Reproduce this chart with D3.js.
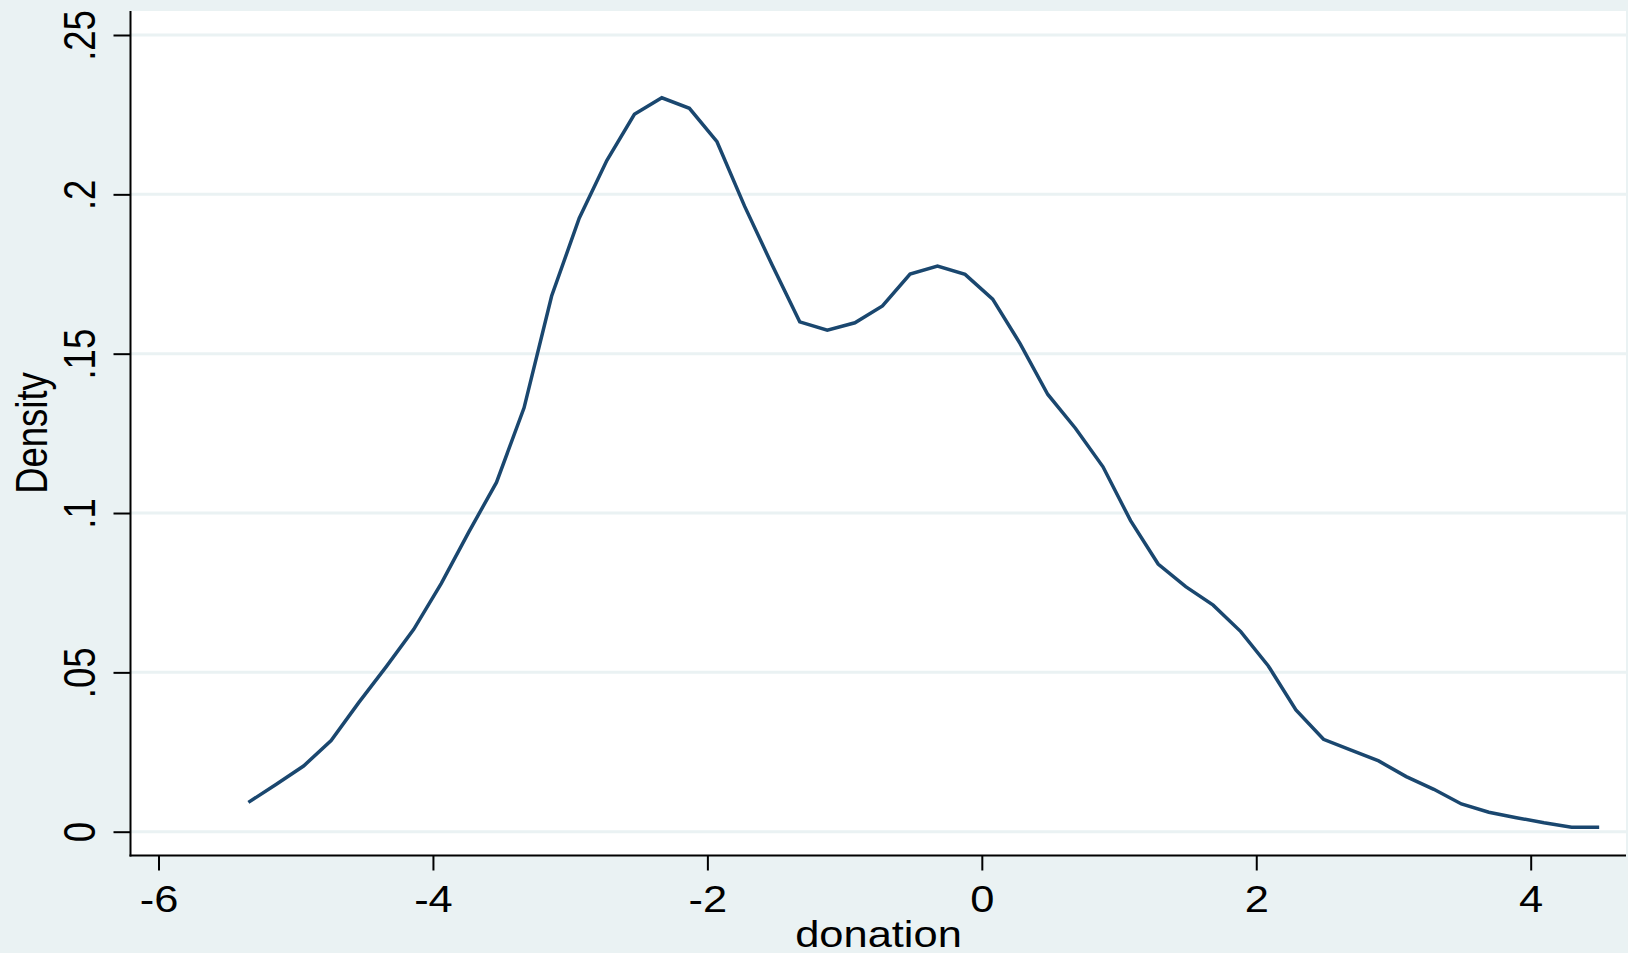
<!DOCTYPE html>
<html>
<head>
<meta charset="utf-8">
<script src="https://cdn.jsdelivr.net/npm/d3@7"></script>
<style>
  html, body { margin: 0; padding: 0; background: #eaf2f3; }
  svg { display: block; }
  text { font-family: "Liberation Sans", Arial, sans-serif; fill: #000; }
</style>
</head>
<body>
<svg id="chart" width="1628" height="953"></svg>
<script>
// Kernel density estimate of donation, evaluated on a 50-point grid
const gridX = [
  -5.345, -5.144, -4.943, -4.742, -4.541, -4.340, -4.140, -3.939, -3.738, -3.537,
  -3.336, -3.135, -2.934, -2.733, -2.532, -2.332, -2.131, -1.930, -1.729, -1.528,
  -1.327, -1.126, -0.925, -0.724, -0.523, -0.323, -0.122, 0.079, 0.280, 0.481,
  0.682, 0.883, 1.084, 1.285, 1.486, 1.686, 1.887, 2.088, 2.289, 2.490,
  2.691, 2.892, 3.093, 3.294, 3.495, 3.695, 3.896, 4.097, 4.298, 4.499
];
const density = [
  0.0092, 0.0148, 0.0206, 0.0286, 0.0405, 0.0518, 0.0635, 0.0779, 0.0941, 0.1096,
  0.1330, 0.1681, 0.1925, 0.2106, 0.2251, 0.2303, 0.2270, 0.2165, 0.1963, 0.1778,
  0.1600, 0.1574, 0.1597, 0.1650, 0.1750, 0.1775, 0.1749, 0.1671, 0.1531, 0.1372,
  0.1266, 0.1145, 0.0976, 0.0840, 0.0769, 0.0711, 0.0628, 0.0520, 0.0382, 0.0290,
  0.0256, 0.0222, 0.0173, 0.0133, 0.0087, 0.0061, 0.0044, 0.0028, 0.0014, 0.0014
];

const xTicks = [-6, -4, -2, 0, 2, 4];
const xTickLabels = ["-6", "-4", "-2", "0", "2", "4"];
const yTicks = [0, 0.05, 0.1, 0.15, 0.2, 0.25];
const yTickLabels = ["0", ".05", ".1", ".15", ".2", ".25"];
const xTitle = "donation";
const yTitle = "Density";

// Layout
const plot = { left: 131, right: 1626, top: 11, bottom: 855 };
const stretch = 1.19;      // horizontal glyph stretch
const fontSize = 36.5;
const bg = "#eaf2f3";
const lineColor = "#1a476f";

const svg = d3.select("#chart");

const x = d3.scaleLinear().domain([-6, 4]).range([158.5, 1530.7]);
const y = d3.scaleLinear().domain([0, 0.25]).range([831.7, 35]);

// Background and plot region
svg.append("rect").attr("width", 1628).attr("height", 953).attr("fill", bg);
svg.append("rect")
  .attr("x", plot.left).attr("y", plot.top)
  .attr("width", plot.right - plot.left).attr("height", plot.bottom - plot.top)
  .attr("fill", "#fff");

// Horizontal grid lines
svg.append("g").selectAll("line").data(yTicks).join("line")
  .attr("x1", plot.left).attr("x2", plot.right)
  .attr("y1", d => y(d)).attr("y2", d => y(d))
  .attr("stroke", bg).attr("stroke-width", 3);

// Density curve
const line = d3.line().x((d, i) => x(gridX[i])).y(d => y(d));
svg.append("path")
  .datum(density)
  .attr("d", line)
  .attr("fill", "none")
  .attr("stroke", lineColor)
  .attr("stroke-width", 3.5)
  .attr("stroke-linejoin", "miter");

// Y axis
const yAxis = d3.axisLeft(y)
  .tickValues(yTicks)
  .tickSize(17)
  .tickFormat((d, i) => yTickLabels[i]);
const gy = svg.append("g").attr("transform", `translate(${plot.left - 0.5},0)`).call(yAxis);
gy.select(".domain").remove();
gy.selectAll(".tick line").attr("stroke", "#000").attr("stroke-width", 2);
gy.selectAll(".tick text")
  .attr("x", null).attr("dy", null).attr("y", null)
  .attr("text-anchor", "middle")
  .attr("font-size", fontSize)
  .attr("transform", `translate(${95 - (plot.left - 0.5)},0) scale(${stretch},1) rotate(-90)`);

// X axis
const xAxis = d3.axisBottom(x)
  .tickValues(xTicks)
  .tickSize(15)
  .tickFormat((d, i) => xTickLabels[i]);
const gx = svg.append("g").attr("transform", `translate(0,${plot.bottom + 0.5})`).call(xAxis);
gx.select(".domain").remove();
gx.selectAll(".tick line").attr("stroke", "#000").attr("stroke-width", 2);
gx.selectAll(".tick text")
  .attr("x", null).attr("dy", null).attr("y", null)
  .attr("text-anchor", "middle")
  .attr("font-size", fontSize)
  .attr("transform", `translate(0,${912 - (plot.bottom + 0.5)}) scale(${stretch},1)`);

// Axis lines
svg.append("line")
  .attr("x1", plot.left - 0.5).attr("x2", plot.left - 0.5)
  .attr("y1", plot.top).attr("y2", plot.bottom + 1.5)
  .attr("stroke", "#000").attr("stroke-width", 2);
svg.append("line")
  .attr("x1", plot.left - 1.5).attr("x2", plot.right)
  .attr("y1", plot.bottom + 0.5).attr("y2", plot.bottom + 0.5)
  .attr("stroke", "#000").attr("stroke-width", 2);

// Axis titles
svg.append("text")
  .attr("text-anchor", "middle")
  .attr("font-size", fontSize)
  .attr("transform", `translate(${(plot.left + plot.right) / 2},947) scale(${stretch},1)`)
  .text(xTitle);
svg.append("text")
  .attr("text-anchor", "middle")
  .attr("font-size", fontSize)
  .attr("transform", `translate(47,${(plot.top + plot.bottom) / 2}) scale(${stretch},1) rotate(-90)`)
  .text(yTitle);
</script>
</body>
</html>
